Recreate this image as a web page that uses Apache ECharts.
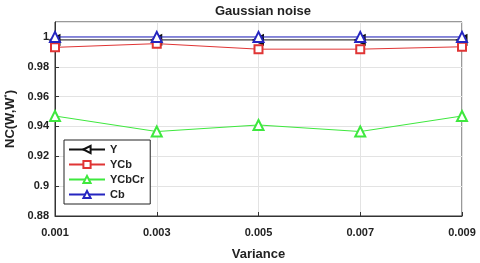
<!DOCTYPE html>
<html><head><meta charset="utf-8">
<script src="https://cdn.jsdelivr.net/npm/echarts@6/dist/echarts.min.js"></script>
<style>html,body{margin:0;padding:0;background:#fff}#c{width:480px;height:263px}</style>
</head><body><div id="c"></div>
<script>
const categories = ['0.001','0.003','0.005','0.007','0.009'];
const yValues = [0.998, 0.998, 0.998, 0.998, 0.998];
const ycbValues = [0.993, 0.9955, 0.9918, 0.9918, 0.9934];
const ycbcrValues = [0.947, 0.9366, 0.941, 0.9366, 0.947];
const cbValues = [1.0, 1.0, 1.0, 1.0, 1.0];
const seriesNames = ['Y','YCb','YCbCr','Cb'];

const chart = echarts.init(document.getElementById('c'));
const font = 'Arial, "Liberation Sans", sans-serif';
function mk(name, data, color, symbol, rot, size){
  return {name, type:'line', data, symbol, symbolSize:size, symbolRotate:rot,
    lineStyle:{color, width:1}, itemStyle:{color, borderColor:color, borderWidth:1},
    showAllSymbol:true, animation:false, z: name==='Cb'?5:3};
}
chart.setOption({
  animation:false,
  title:{text:'Gaussian noise', left:258, textAlign:'center', top:0,
    textStyle:{fontFamily:font, fontSize:13, fontWeight:'bold', color:'#222'}},
  grid:{left:55, right:18, top:22, bottom:47, outerBoundsMode:'none', containLabel:false,
    show:true, borderColor:'#333', borderWidth:1, backgroundColor:'#fff'},
  legend:{orient:'vertical', left:64, top:140, data:seriesNames,
    borderColor:'#222', borderWidth:1, padding:[4,6,4,4], itemWidth:36, itemHeight:9, itemGap:4,
    backgroundColor:'#fff',
    textStyle:{fontFamily:font, fontSize:11, fontWeight:'bold', color:'#222'}},
  xAxis:{type:'category', data:categories, boundaryGap:false,
    name:'Variance', nameLocation:'middle', nameGap:32,
    nameTextStyle:{fontFamily:font, fontSize:13, fontWeight:'bold', color:'#222'},
    axisLine:{lineStyle:{color:'#333'}}, axisTick:{inside:true, length:4, lineStyle:{color:'#333'}},
    axisLabel:{fontFamily:font, fontSize:11, fontWeight:'bold', color:'#222', margin:11},
    splitLine:{show:true, lineStyle:{color:'#e3e3e3'}}},
  yAxis:{type:'value', min:0.88, max:1.01, interval:0.02,
    name:'{a|NC(W,W}{s|*}{a|)}', nameLocation:'middle', nameGap:37, nameRotate:90,
    nameTextStyle:{rich:{a:{fontFamily:font, fontSize:13, fontWeight:'bold', color:'#222'},
      s:{fontFamily:font, fontSize:8, fontWeight:'bold', color:'#222', verticalAlign:'top', padding:[0,0,6,0]}}},
    axisLine:{show:true, lineStyle:{color:'#333'}}, axisTick:{show:true, inside:true, length:4, lineStyle:{color:'#333'}},
    axisLabel:{fontFamily:font, fontSize:11, fontWeight:'bold', color:'#222', margin:6, showMaxLabel:false,
      formatter:v=>String(+v.toFixed(2))},
    splitLine:{show:true, lineStyle:{color:'#e3e3e3'}}},
  series:[
    mk('Y', yValues, '#111111', 'emptyTriangle', 90, 9),
    mk('YCb', ycbValues, '#e03535', 'emptyRect', 0, 8),
    mk('YCbCr', ycbcrValues, '#3ee83e', 'emptyTriangle', 0, 10),
    mk('Cb', cbValues, '#2525c0', 'emptyTriangle', 0, 10)
  ]
});
</script></body></html>
